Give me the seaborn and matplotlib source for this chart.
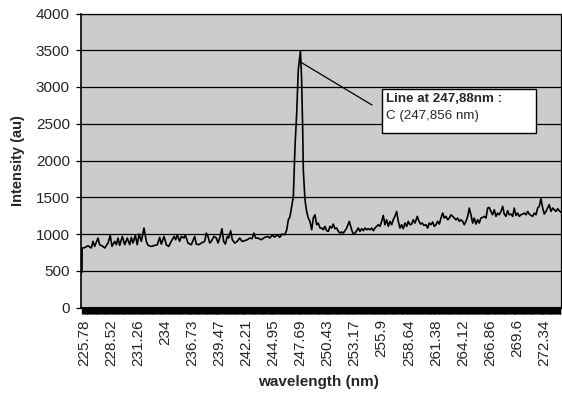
import numpy as np
import pandas as pd
import matplotlib
matplotlib.use("Agg")
import matplotlib.pyplot as plt
import matplotlib.patches as mpatches
import matplotlib.transforms as mtransforms
import seaborn as sns

# ---- data ----
wavelength = [
    225.78, 225.80, 226.05, 226.39, 226.72, 226.89, 227.06, 227.40, 227.57, 227.90,
    228.08, 228.41, 228.64, 228.81, 229.09, 229.25, 229.42, 229.59, 229.86, 230.10,
    230.36, 230.61, 230.77, 230.94, 231.17, 231.37, 231.55, 231.78, 232.05, 232.29,
    232.46, 232.79, 233.13, 233.40, 233.64, 233.80, 234.08, 234.31, 234.55, 234.81,
    235.09, 235.26, 235.42, 235.66, 235.83, 236.10, 236.23, 236.50, 236.84, 237.18,
    237.34, 237.59, 237.85, 238.19, 238.36, 238.53, 238.70, 238.86, 239.13, 239.37,
    239.54, 239.71, 239.94, 240.11, 240.28, 240.48, 240.62, 240.82, 240.99, 241.23,
    241.49, 241.73, 241.97, 242.24, 242.50, 242.75, 242.98, 243.18, 243.35, 243.58,
    243.92, 244.26, 244.60, 244.77, 245.03, 245.27, 245.54, 245.78, 246.01, 246.29,
    246.49, 246.65, 246.82, 246.99, 247.16, 247.33, 247.50, 247.66, 247.88, 248.00,
    248.11, 248.17, 248.34, 248.51, 248.67, 248.84, 249.02, 249.18, 249.35, 249.52,
    249.68, 249.86, 250.03, 250.19, 250.36, 250.53, 250.70, 250.87, 251.04, 251.20,
    251.37, 251.55, 251.71, 251.88, 252.05, 252.21, 252.39, 252.56, 252.82, 253.06,
    253.22, 253.40, 253.57, 253.73, 253.90, 254.08, 254.24, 254.41, 254.58, 254.74,
    254.92, 255.09, 255.25, 255.42, 255.59, 255.76, 255.93, 256.10, 256.26, 256.43,
    256.60, 256.77, 256.94, 257.11, 257.27, 257.44, 257.61, 257.78, 257.95, 258.12,
    258.28, 258.46, 258.63, 258.79, 258.96, 259.13, 259.30, 259.47, 259.70, 259.87,
    260.04, 260.20, 260.38, 260.58, 260.75, 260.91, 261.09, 261.26, 261.42, 261.59,
    261.76, 261.93, 262.10, 262.27, 262.43, 262.60, 262.78, 262.94, 263.11, 263.28,
    263.44, 263.61, 263.78, 263.95, 264.12, 264.29, 264.45, 264.63, 264.80, 264.96,
    265.13, 265.30, 265.46, 265.64, 265.81, 265.97, 266.14, 266.31, 266.48, 266.65,
    266.82, 266.98, 267.15, 267.32, 267.49, 267.66, 267.83, 267.99, 268.17, 268.34,
    268.50, 268.67, 268.84, 269.01, 269.18, 269.35, 269.51, 269.68, 269.85, 270.02,
    270.19, 270.36, 270.52, 270.70, 270.87, 271.03, 271.20, 271.37, 271.54, 271.71,
    271.88, 272.04, 272.21, 272.39, 272.55, 272.72, 272.89, 273.05, 273.22, 273.40,
    273.56, 273.73, 273.90, 274.06, 274.23,
]
intensity = [
    480, 809, 814, 840, 809, 900, 831, 945, 854, 831,
    809, 877, 981, 831, 900, 854, 945, 845, 967, 854,
    945, 854, 954, 877, 981, 854, 999, 900, 1081, 900,
    845, 831, 845, 854, 954, 863, 967, 854, 831, 900,
    967, 922, 990, 900, 967, 945, 990, 877, 854, 967,
    863, 854, 877, 900, 1012, 967, 877, 900, 967, 945,
    877, 945, 1072, 900, 863, 967, 945, 1045, 922, 877,
    900, 945, 900, 909, 922, 945, 936, 1012, 945, 945,
    922, 954, 967, 945, 981, 958, 990, 954, 999, 990,
    1054, 1190, 1235, 1371, 1507, 2188, 2642, 3231, 3494, 3095,
    2415, 1871, 1463, 1307, 1217, 1172, 1058, 1217, 1262, 1126,
    1149, 1081, 1081, 1058, 1104, 1045, 1036, 1104, 1081, 1135,
    1072, 1081, 1036, 1013, 1027, 1013, 1045, 1081, 1172, 1058,
    1000, 1013, 1045, 1081, 1036, 1072, 1045, 1081, 1058, 1072,
    1058, 1081, 1045, 1081, 1104, 1126, 1104, 1172, 1253, 1126,
    1194, 1104, 1172, 1126, 1194, 1240, 1307, 1172, 1081, 1126,
    1072, 1149, 1104, 1172, 1126, 1135, 1194, 1149, 1240, 1172,
    1135, 1149, 1117, 1126, 1081, 1149, 1126, 1163, 1104, 1126,
    1172, 1135, 1217, 1285, 1217, 1240, 1194, 1217, 1262, 1240,
    1217, 1194, 1217, 1172, 1194, 1172, 1126, 1172, 1240, 1353,
    1262, 1149, 1217, 1135, 1194, 1149, 1217, 1226, 1240, 1217,
    1353, 1362, 1307, 1262, 1330, 1240, 1285, 1262, 1307, 1376,
    1271, 1240, 1317, 1262, 1271, 1240, 1353, 1253, 1285, 1240,
    1262, 1271, 1285, 1262, 1307, 1271, 1253, 1240, 1285, 1262,
    1353, 1376, 1480, 1353, 1271, 1307, 1353, 1398, 1307, 1353,
    1330, 1307, 1344, 1317, 1298,
]
tick_labels = ["225.78", "228.52", "231.26", "234", "236.73", "239.47", "242.21",
               "244.95", "247.69", "250.43", "253.17", "255.9", "258.64", "261.38",
               "264.12", "266.86", "269.6", "272.34"]
y_ticks = [0, 500, 1000, 1500, 2000, 2500, 3000, 3500, 4000]
annot_title = "Line at 247,88nm :"
annot_body = "C (247,856 nm)"
peak_wl = 247.88

df = pd.DataFrame({"wavelength (nm)": wavelength, "Intensity (au)": intensity})

sns.set_style("white")
plt.rcParams["font.family"] = ["Liberation Sans", "DejaVu Sans"]

W, H = 562, 395
fig = plt.figure(figsize=(W / 100, H / 100), dpi=100)
L, R, T, B = 81, 561, 13.5, 307.5
ax = fig.add_axes([L / W, 1 - B / H, (R - L) / W, (B - T) / H])
ax.set_facecolor("#cccccc")

sns.lineplot(data=df, x="wavelength (nm)", y="Intensity (au)", color="black",
             linewidth=1.2, ax=ax, zorder=3)

ax.set_ylim(0, 4000)
ax.set_xlim(225.68, 274.24)
ax.set_yticks(y_ticks)
ax.set_yticklabels([str(v) for v in y_ticks])
ax.grid(axis="y", color="black", linewidth=0.9)
ax.grid(axis="x", visible=False)
ax.set_axisbelow(True)

tick_pos = [float(t) for t in tick_labels]
ax.set_xticks(tick_pos)
ax.set_xticklabels(tick_labels, rotation=90, fontsize=11)
# dense category tick marks forming the black band under the axis
cat_step = 2.74 / 30
ax.set_xticks(np.arange(225.78, 274.24, cat_step), minor=True)
ax.tick_params(axis="x", which="both", direction="out", length=4.5, width=1.0,
               color="black", bottom=True, pad=4)
ax.tick_params(axis="y", which="major", direction="out", length=3.5, width=0.9,
               color="black", left=True, pad=4.5, labelsize=11)
offset = mtransforms.ScaledTranslation(2 / 100, 0, fig.dpi_scale_trans)
for lab in ax.get_xticklabels():
    lab.set_transform(lab.get_transform() + offset)

for s in ax.spines.values():
    s.set_color("black")
    s.set_linewidth(0.9)
ax.spines["left"].set_linewidth(1.2)
ax.spines["bottom"].set_linewidth(1.5)

ax.set_xlabel("wavelength (nm)", fontsize=11, fontweight="bold")
ax.set_ylabel("Intensity (au)", fontsize=10.5, fontweight="bold")
ax.xaxis.set_label_coords((318 - L) / (R - L), (B - 382) / (B - T))
ax.xaxis.label.set_va("center")
ax.yaxis.set_label_coords((18 - L) / (R - L), 0.5)
ax.yaxis.label.set_va("center")

# annotation box and leader line
box = mpatches.Rectangle((381.7 / W, 1 - 133.3 / H), 154.3 / W, 44 / H,
                         transform=fig.transFigure, facecolor="white",
                         edgecolor="black", linewidth=1.0, zorder=5)
fig.patches.append(box)
fig.text(386 / W, 1 - 99.5 / H, annot_title, fontsize=9.6, fontweight="bold",
         ha="left", va="center", zorder=6)
fig.text(386 / W, 1 - 116.5 / H, annot_body, fontsize=9.6,
         ha="left", va="center", zorder=6)
ax.annotate("", xy=(peak_wl, 3340), xycoords="data",
            xytext=(372, H - 105), textcoords="figure pixels",
            arrowprops=dict(arrowstyle="-", color="black", lw=0.9,
                            shrinkA=0, shrinkB=0), zorder=4)

fig.savefig("out.png", dpi=100, facecolor="white")
